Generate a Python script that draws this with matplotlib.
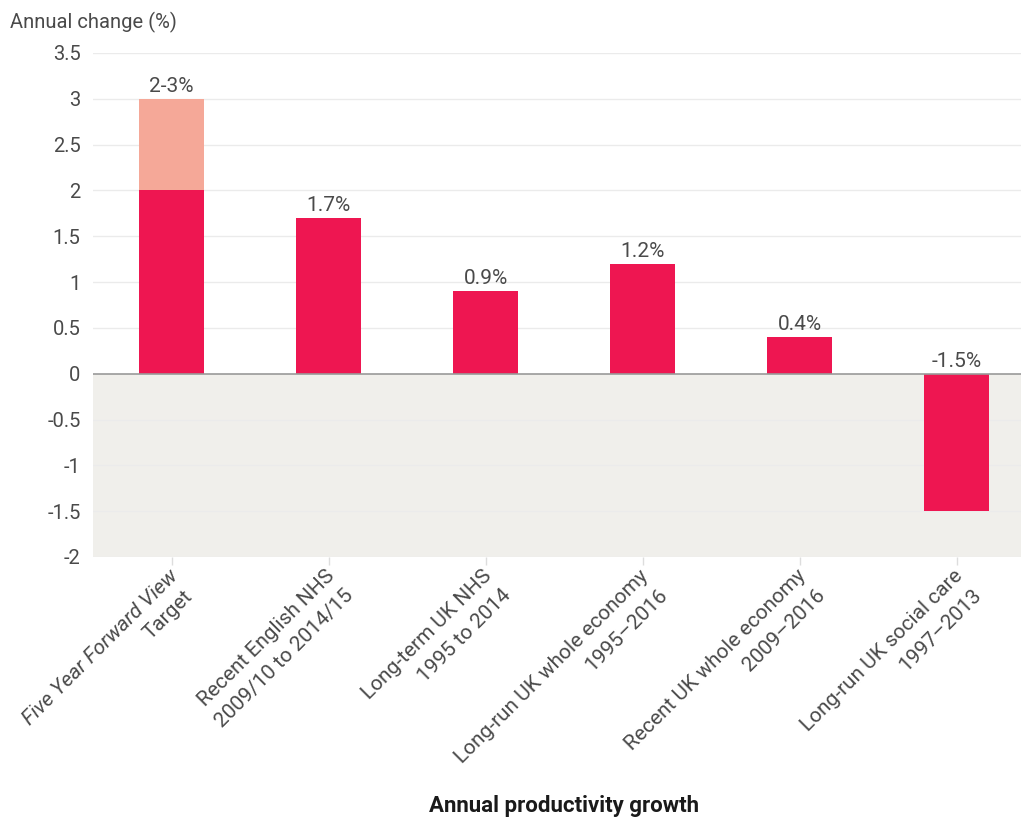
import matplotlib
matplotlib.use("Agg")
import matplotlib.pyplot as plt
from matplotlib.transforms import offset_copy

plt.rcParams['font.family'] = ['Roboto', 'DejaVu Sans']

categories_line1 = ["Five Year Forward View", "Recent English NHS", "Long-term UK NHS",
                    "Long-run UK whole economy", "Recent UK whole economy", "Long-run UK social care"]
categories_line2 = ["Target", "2009/10 to 2014/15", "1995 to 2014", "1995\u20132016",
                    "2009\u20132016", "1997\u20132013"]
base_values = [2.0, 1.7, 0.9, 1.2, 0.4, -1.5]
extra_values = [1.0, 0, 0, 0, 0, 0]
value_labels = ["2-3%", "1.7%", "0.9%", "1.2%", "0.4%", "-1.5%"]
yticks = [3.5, 3, 2.5, 2, 1.5, 1, 0.5, 0, -0.5, -1, -1.5, -2]
ytick_labels = ["3.5", "3", "2.5", "2", "1.5", "1", "0.5", "0", "-0.5", "-1", "-1.5", "-2"]

dark = "#EE1651"
light = "#F5A898"
txt = "#4a4a4a"
fw = "normal"

W, H = 1021, 819
fig = plt.figure(figsize=(W / 100, H / 100), dpi=100)
left, right = 93, 1035
top, bottom = 53, 557
ax = fig.add_axes([left / W, 1 - bottom / H, (right - left) / W, (bottom - top) / H])

x = list(range(len(base_values)))
ax.set_xlim(-0.5, 5.5)
ax.set_ylim(-2, 3.5)

ax.axhspan(-2, 0, color="#F0EFEB", zorder=0, lw=0)
for t in yticks:
    if t != 0:
        ax.axhline(t, color="#EBEBEB", lw=1, zorder=0.5)
ax.axhline(0, color="#999999", lw=1.2, zorder=3)

bw = 0.41
ax.bar(x, base_values, width=bw, color=dark, zorder=2)
ax.bar(x, extra_values, width=bw, bottom=base_values, color=light, zorder=2)

for i, lab in enumerate(value_labels):
    topv = max(base_values[i] + extra_values[i], 0)
    ax.annotate(lab, (x[i], topv), xytext=(0, 2), textcoords="offset points",
                ha="center", va="bottom", fontsize=15, color=txt, fontweight=fw)

ax.set_yticks(yticks)
ax.set_yticklabels(ytick_labels, fontsize=14.5, color=txt, fontweight=fw)
ax.tick_params(axis="y", length=0, pad=9)
ax.set_xticks(x)
ax.set_xticklabels([""] * len(x))
ax.tick_params(axis="x", length=6, color="#DDDDDD", width=1)
for s in ax.spines.values():
    s.set_visible(False)

# rotated category labels, each line placed separately (right end of baseline)
trans = ax.get_xaxis_transform()
for i in x:
    t1 = offset_copy(trans, fig=fig, x=7, y=-20, units="dots")
    ax.text(i, 0, categories_line1[i], transform=t1, rotation=45, ha="right", va="baseline",
            rotation_mode="anchor", fontsize=15, color=txt, fontweight=fw,
            style="italic" if i == 0 else "normal")
    dx2, dy2 = (22, -40) if i == 0 else (26, -39)
    t2 = offset_copy(trans, fig=fig, x=dx2, y=dy2, units="dots")
    ax.text(i, 0, categories_line2[i], transform=t2, rotation=45, ha="right", va="baseline",
            rotation_mode="anchor", fontsize=15, color=txt, fontweight=fw)

fig.text(10 / W, 1 - 22 / H, "Annual change (%)", ha="left", va="center", fontsize=14.5,
         color=txt, fontweight=fw)
fig.text(564 / W, 1 - 806 / H, "Annual productivity growth", ha="center", va="center",
         fontsize=16, color="#1a1a1a", fontweight="bold")

fig.savefig("out.png", dpi=100, facecolor="white")
